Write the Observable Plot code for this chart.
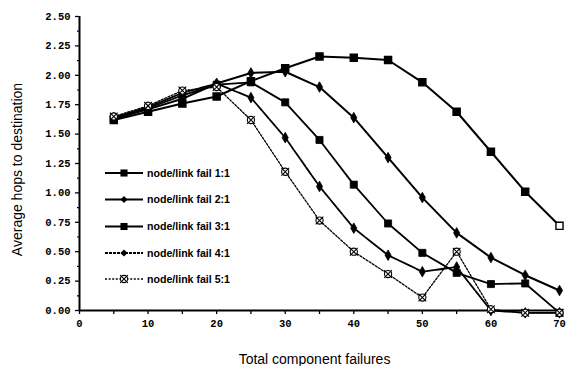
<!DOCTYPE html>
<html><head><meta charset="utf-8">
<script src="https://cdn.jsdelivr.net/npm/d3@7"></script>
<script src="https://cdn.jsdelivr.net/npm/@observablehq/plot@0.6"></script>
<style>
html,body{margin:0;padding:0;background:#fff;}
#wrap{position:relative;width:568px;height:366px;}
#wrap svg{position:absolute;left:0;top:0;}
</style></head><body><div id="wrap"></div>
<script>
// ---- data ----
const failures = [5,10,15,20,25,30,35,40,45,50,55,60,65,70];
const seriesNames = ["node/link fail 1:1","node/link fail 2:1","node/link fail 3:1","node/link fail 4:1","node/link fail 5:1"];
const fail11 = [1.62,1.69,1.76,1.82,1.95,2.06,2.16,2.15,2.13,1.94,1.69,1.35,1.01,0.72];
const fail21 = [1.63,1.71,1.80,1.93,2.02,2.03,1.90,1.64,1.30,0.96,0.66,0.45,0.30,0.17];
const fail31 = [1.63,1.72,1.83,1.92,1.94,1.77,1.45,1.07,0.74,0.49,0.32,0.225,0.23,-0.02];
const fail41 = [1.64,1.73,1.85,1.93,1.81,1.47,1.055,0.70,0.47,0.33,0.37,0.0,-0.02,-0.02];
const fail51 = [1.65,1.74,1.87,1.90,1.62,1.18,0.765,0.50,0.31,0.11,0.50,0.01,-0.02,-0.02];
const yTicks = [0,0.25,0.5,0.75,1,1.25,1.5,1.75,2,2.25,2.5];
const yMinorTicks = [0.125,0.375,0.625,0.875,1.125,1.375,1.625,1.875,2.125,2.375];
const xTicks = [0,10,20,30,40,50,60,70];
const xMinorTicks = [5,15,25,35,45,55,65];
const xLabel = "Total component failures";
const yLabel = "Average hops to destination";

// ---- styles ----
const seriesValues = [fail11, fail21, fail31, fail41, fail51];
const styles = [
  {symbol:"square", r:4, dash:null, width:2},
  {symbol:"diamond", r:3.2, dash:null, width:2},
  {symbol:"square", r:4, dash:null, width:1.8},
  {symbol:"diamond", r:3.2, dash:"9,1.2", width:1.8},
  {symbol:"star", r:3.6, dash:"2,1.6", width:1.3}
];

const rows = [];
seriesNames.forEach((name,i)=>failures.forEach((x,j)=>rows.push({series:name, i, x, y:seriesValues[i][j], last: j===failures.length-1})));

const marks = [];
seriesNames.forEach((name,i)=>{
  const st = styles[i];
  const d = rows.filter(r=>r.i===i);
  marks.push(Plot.line(d,{x:"x",y:"y",stroke:"black",strokeWidth:st.width,strokeDasharray:st.dash,strokeLinejoin:"round"}));
});
seriesNames.forEach((name,i)=>{
  const st = styles[i];
  const d = rows.filter(r=>r.i===i);
  if (st.symbol==="star") {
    marks.push(Plot.dot(d,{x:"x",y:"y",r:st.r,symbol:"circle",fill:"white",stroke:"black",strokeWidth:1.1}));
    marks.push(Plot.dot(d,{x:"x",y:"y",r:st.r,symbol:"times",stroke:"black",strokeWidth:1.1}));
  } else {
    marks.push(Plot.dot(d,{x:"x",y:"y",r:st.r,symbol:st.symbol,
      fill: r => (i===0 && r.last) ? "white" : "black", stroke:"black", strokeWidth: (i===0)?1.4:0.8}));
  }
});

const tickFont = {fontFamily:"Liberation Mono, monospace", fontWeight:"bold", fontSize:10.5};
const labelFont = "Liberation Sans, Arial, sans-serif";

const chart = Plot.plot({
  width:568, height:366,
  marginLeft:79, marginRight:9, marginTop:16, marginBottom:56,
  x:{domain:[0,70], label:null},
  y:{domain:[0,2.5], label:null},
  style:{background:"white", color:"black", fontFamily:labelFont},
  marks:[
    Plot.axisY(yTicks,{tickSize:4, tickPadding:5, tickFormat:d3.format(".2f"), label:null, strokeWidth:1.3, ...tickFont}),
    Plot.axisY(yMinorTicks,{tickSize:2, tickFormat:()=>"", label:null, strokeWidth:1.2}),
    Plot.axisX(xTicks,{tickSize:4, tickPadding:5, tickFormat:d3.format("d"), label:null, strokeWidth:1.3, ...tickFont}),
    Plot.axisX(xMinorTicks,{tickSize:4, tickFormat:()=>"", label:null, strokeWidth:1.3}),
    Plot.ruleX([0],{stroke:"black", strokeWidth:2}),
    Plot.ruleY([0],{stroke:"black", strokeWidth:2}),
    ...marks,
    Plot.text([xLabel],{frameAnchor:"bottom", textAnchor:"middle", dy:53, dx:-5, fontSize:14, fontFamily:labelFont}),
    Plot.text([yLabel],{frameAnchor:"left", textAnchor:"middle", rotate:-90, dx:-62, dy:6, fontSize:14, fontFamily:labelFont})
  ]
});
document.getElementById("wrap").appendChild(chart);

// ---- legend overlay ----
const legendRowY = [173,199.5,226.5,253,279];
const lg = d3.select("#wrap").append("svg").attr("width",568).attr("height",366).style("pointer-events","none");
seriesNames.forEach((name,i)=>{
  const st = styles[i];
  const y = legendRowY[i];
  const g = lg.append("g");
  g.append("line").attr("x1",105).attr("x2",143).attr("y1",y).attr("y2",y)
    .attr("stroke","black").attr("stroke-width",st.width).attr("stroke-dasharray",i===3?"3,1":st.dash);
  const area = Math.PI*st.r*st.r;
  if (st.symbol==="star") {
    g.append("circle").attr("cx",124).attr("cy",y).attr("r",st.r).attr("fill","white").attr("stroke","black").attr("stroke-width",1.1);
    g.append("path").attr("d",d3.symbol(d3.symbolTimes,area)()).attr("transform",`translate(124,${y})`).attr("stroke","black").attr("fill","none").attr("stroke-width",1.1);
  } else {
    const sym = st.symbol==="square" ? d3.symbolSquare : d3.symbolDiamond2;
    g.append("path").attr("d",d3.symbol(sym,area)()).attr("transform",`translate(124,${y})`).attr("fill","black");
  }
  g.append("text").attr("x",147).attr("y",y).attr("dy","0.35em")
    .attr("font-family",labelFont).attr("font-size",10.6).attr("font-weight","bold")
    .text(name);
});
</script></body></html>
